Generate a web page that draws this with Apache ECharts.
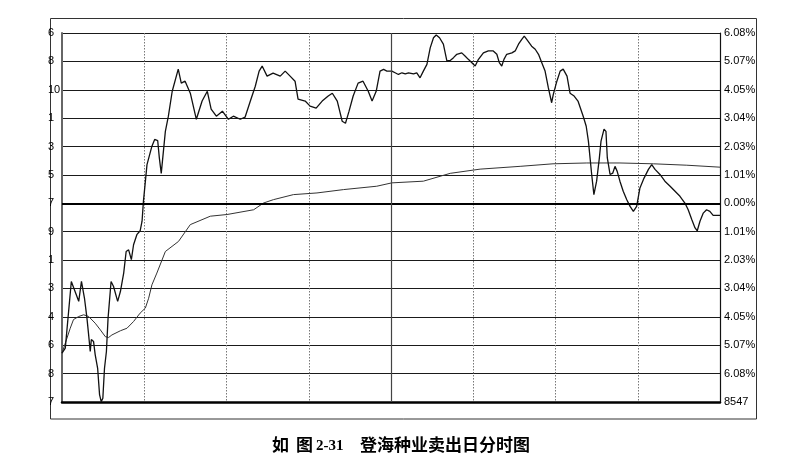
<!DOCTYPE html>
<html>
<head>
<meta charset="utf-8">
<script src="https://cdn.jsdelivr.net/npm/echarts@6/dist/echarts.min.js"></script>
<style>
html,body{margin:0;padding:0;background:#fff;}
#chart{width:792px;height:469px;}
</style>
</head>
<body>
<div id="chart"></div>
<script>
// Tick labels, top to bottom
const leftTickLabels = ['6','8','10','1','3','5','7','9','1','3','4','6','8','7'];
const rightTickLabels = ['6.08%','5.07%','4.05%','3.04%','2.03%','1.01%','0.00%','1.01%','2.03%','3.04%','4.05%','5.07%','6.08%','8547'];

// Price line: minutes since open, % change vs previous close
const priceMinutes = [0,1.2,1.8,3.4,6.1,7.1,8.2,9.1,9.7,10.3,10.7,11.5,12.1,13.0,13.7,14.3,14.9,15.5,16.2,16.8,17.9,18.8,20.3,21.3,22.5,23.4,24.3,25.3,26.1,27.3,28.5,29.2,29.7,31.0,32.8,33.8,34.9,35.5,36.2,37.7,38.8,40.2,42.4,43.5,44.9,46.8,49.0,51.1,53.0,54.4,56.3,58.5,60.7,62.5,65.0,66.8,68.7,70.5,71.9,73.0,74.8,77.0,79.6,81.4,83.2,85.0,86.1,88.7,90.5,92.7,94.9,97.1,98.6,100.4,102.2,103.4,104.7,106.2,108.0,109.8,111.7,113.1,114.6,116.0,117.3,118.5,120.3,121.5,122.7,124.0,125.2,126.4,128.2,129.4,130.6,131.8,133.1,134.3,135.5,136.5,137.7,139.1,140.4,141.6,142.8,144.0,145.8,147.0,148.2,149.5,150.7,151.9,153.7,155.5,157.3,158.6,159.5,160.4,161.2,162.2,164.1,165.3,166.5,167.7,168.6,169.5,171.3,172.6,173.8,175.0,176.2,177.4,178.6,179.2,180.5,181.7,182.8,184.2,185.3,186.8,188.2,190.1,191.2,192.0,193.2,194.0,195.0,196.0,196.6,197.7,198.4,198.9,199.9,200.9,201.7,202.5,203.5,204.7,206.0,207.2,208.4,209.6,210.8,212.3,213.9,215.1,216.3,218.1,219.9,221.8,223.6,225.4,227.2,228.4,229.7,230.9,231.7,232.7,233.9,235.1,236.3,237.5,240];
const pricePct = [-5.35,-5.17,-5.11,-2.79,-3.50,-2.79,-3.39,-4.10,-4.68,-5.29,-4.86,-4.93,-5.40,-5.89,-6.83,-7.08,-6.96,-5.89,-5.29,-4.10,-2.79,-2.97,-3.50,-3.15,-2.49,-1.72,-1.66,-2.01,-1.48,-1.12,-0.98,-0.64,0.07,1.38,2.04,2.28,2.24,1.62,1.07,2.57,3.11,4.00,4.79,4.29,4.36,3.93,3.00,3.65,4.00,3.36,3.11,3.29,3.00,3.11,3.00,3.08,3.65,4.18,4.72,4.90,4.54,4.65,4.54,4.72,4.54,4.36,3.72,3.65,3.47,3.40,3.65,3.83,3.93,3.65,2.93,2.86,3.29,3.83,4.29,4.36,4.00,3.65,4.00,4.72,4.78,4.72,4.72,4.66,4.60,4.66,4.62,4.66,4.62,4.66,4.48,4.72,4.96,5.55,5.91,6.01,5.91,5.68,5.08,5.10,5.20,5.32,5.37,5.26,5.14,5.02,4.90,5.14,5.37,5.44,5.44,5.32,5.02,4.90,5.14,5.32,5.37,5.44,5.68,5.85,5.97,5.85,5.61,5.50,5.32,5.02,4.72,4.12,3.59,3.89,4.36,4.72,4.79,4.54,3.93,3.83,3.65,3.11,2.75,2.22,1.03,0.31,0.79,1.62,2.22,2.65,2.57,1.62,1.03,1.08,1.32,1.14,0.79,0.43,0.13,-0.11,-0.29,-0.11,0.55,0.90,1.21,1.38,1.21,1.03,0.79,0.61,0.43,0.25,0.01,-0.23,-0.58,-0.88,-0.98,-0.64,-0.35,-0.23,-0.29,-0.43,-0.43];

// Average price line
const avgMinutes = [0,3.0,4.2,6.1,7.9,9.7,12.1,14.0,15.8,17.0,18.2,21.3,23.7,26.1,28.5,30.4,31.6,32.8,34.6,37.7,42.5,46.8,54.1,60.2,69.9,73.5,77.1,84.4,93.0,102.7,114.8,120.3,131.8,141.6,152.5,167.1,179.1,191.4,203.5,215.7,227.9,240];
const avgPct = [-5.35,-4.46,-4.15,-4.04,-3.98,-4.04,-4.28,-4.52,-4.76,-4.79,-4.70,-4.55,-4.46,-4.22,-3.92,-3.74,-3.39,-2.91,-2.49,-1.72,-1.36,-0.76,-0.46,-0.40,-0.23,0.01,0.13,0.31,0.37,0.49,0.61,0.73,0.79,1.07,1.22,1.32,1.41,1.44,1.44,1.41,1.36,1.29];

const STEP = 6.08 / 6;
function labelIndex(v){ return 6 - Math.round(v / STEP); }

const chart = echarts.init(document.getElementById('chart'), null, {renderer:'canvas'});
const labelFont = {fontFamily:'Liberation Sans, Arial, sans-serif', fontSize:11, color:'#000'};

chart.setOption({
  animation:false,
  backgroundColor:'#fff',
  grid:{left:62, right:72, top:33, bottom:67, containLabel:false},
  xAxis:{
    type:'value', min:0, max:240, interval:30,
    axisLine:{show:true, onZero:false, lineStyle:{color:'#000', width:2.5}},
    axisTick:{show:false}, axisLabel:{show:false},
    splitLine:{show:true, lineStyle:{color:'#777', width:1, type:[1.5,1.5]}}
  },
  yAxis:[{
    type:'value', position:'left', min:-7*STEP, max:6*STEP, interval:STEP,
    axisLine:{show:true, lineStyle:{color:'#666', width:2}},
    axisTick:{show:false},
    axisLabel:Object.assign({margin:14, align:'left', formatter:v=>leftTickLabels[labelIndex(v)]||''}, labelFont),
    splitLine:{show:true, lineStyle:{color:'#1a1a1a', width:1}}
  },{
    type:'value', position:'right', min:-7*STEP, max:6*STEP, interval:STEP,
    axisLine:{show:true, lineStyle:{color:'#111', width:1.2}},
    axisTick:{show:false},
    axisLabel:Object.assign({margin:4, formatter:v=>rightTickLabels[labelIndex(v)]||''}, labelFont),
    splitLine:{show:false}
  }],
  series:[{
    name:'均价', type:'line', showSymbol:false, silent:true,
    data: avgMinutes.map((m,i)=>[m, avgPct[i]]),
    lineStyle:{color:'#333', width:1},
    z:3
  },{
    name:'价格', type:'line', showSymbol:false, silent:true,
    data: priceMinutes.map((m,i)=>[m, pricePct[i]]),
    lineStyle:{color:'#111', width:1.3},
    z:4,
    markLine:{
      silent:true, symbol:'none', label:{show:false},
      data:[
        {yAxis:0, lineStyle:{color:'#000', width:2.2, type:'solid'}},
        {xAxis:120, lineStyle:{color:'#444', width:1.2, type:'solid'}}
      ]
    }
  }],
  graphic:[
    {type:'rect', shape:{x:50.5, y:18.5, width:706, height:400.5}, style:{fill:null, stroke:'#333', lineWidth:1}, z:-1, silent:true},
    {type:'text', x:272, y:445, style:{text:'如', font:'bold 17px "Noto Sans CJK SC"', fill:'#000', verticalAlign:'middle'}},
    {type:'text', x:296, y:445, style:{text:'图', font:'bold 17px "Noto Sans CJK SC"', fill:'#000', verticalAlign:'middle'}},
    {type:'text', x:316, y:446, style:{text:'2-31', font:'bold 15px "Liberation Serif"', fill:'#000', verticalAlign:'middle'}},
    {type:'text', x:360, y:445, style:{text:'登海种业卖出日分时图', font:'bold 17px "Noto Sans CJK SC"', fill:'#000', verticalAlign:'middle'}}
  ]
});
</script>
</body>
</html>
